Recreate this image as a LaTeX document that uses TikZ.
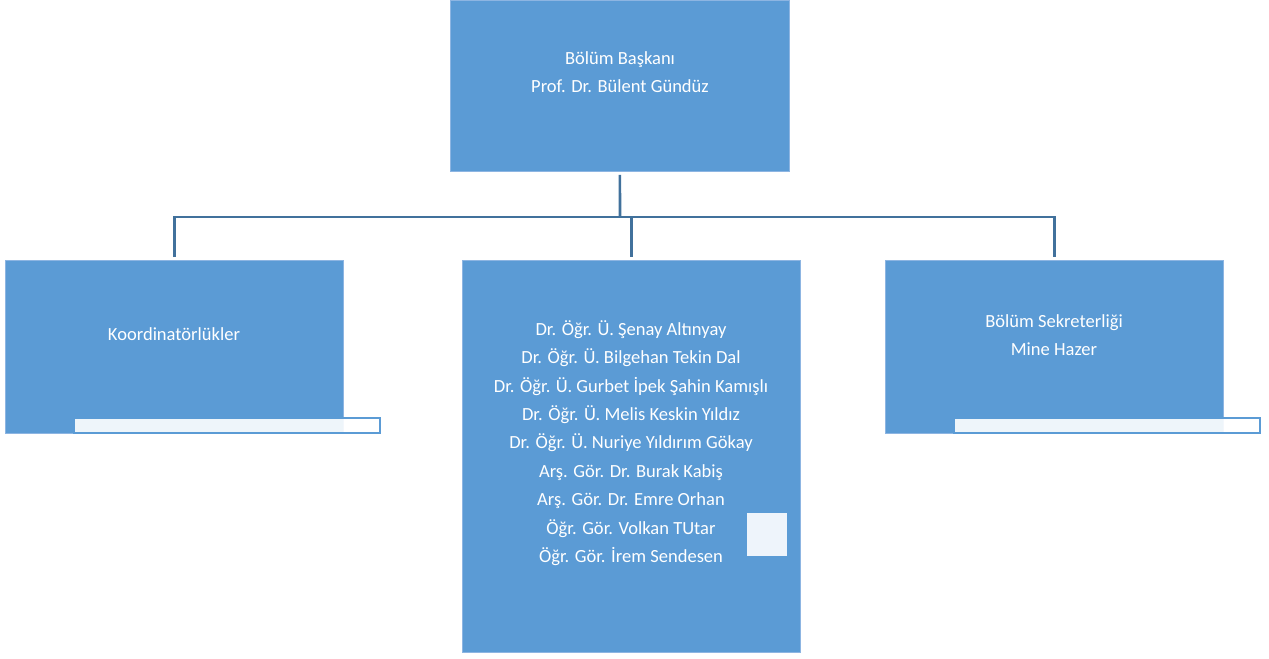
\documentclass[tikz,border=0pt]{standalone}
\usepackage{fontspec}
\setmainfont{Carlito}
\definecolor{boxblue}{HTML}{5B9BD5}
\definecolor{linkblue}{HTML}{41719C}
\definecolor{edgeblue}{HTML}{8DB5E2}
\definecolor{tabfill}{HTML}{EEF4FB}
\begin{document}
\begin{tikzpicture}[x=1bp,y=-1bp,
  box/.style={fill=boxblue, draw=edgeblue, line width=0.8bp, inner sep=0pt, anchor=north west},
  lbl/.style={text=white, font=\fontsize{18.6}{28.5}\selectfont, align=center, inner sep=0pt},
  tab/.style={fill=white, fill opacity=0.9, draw=boxblue, draw opacity=1, line width=2bp, inner sep=0pt, anchor=north west},
  patch/.style={fill=tabfill, inner sep=0pt, anchor=north west},
  link/.style={draw=linkblue, line width=2.6bp}]
\useasboundingbox (0,0) rectangle (1269,659);
% boxes
\node[box, minimum width=339bp, minimum height=171bp] (top) at (450,0) {};
\node[box, minimum width=338bp, minimum height=173bp] (left) at (5,260) {};
\node[box, minimum width=338bp, minimum height=392bp] (mid) at (462,260) {};
\node[box, minimum width=338bp, minimum height=173bp] (right) at (885,260) {};
% connectors
\coordinate (j) at (620,217);
\draw[link] ([yshift=-3bp]top.south) -- (j);
\draw[link] ([yshift=3bp]left.north) |- (j) -| ([yshift=3bp]right.north);
\draw[link] (j -| mid.north) -- ([yshift=3bp]mid.north);
% tabs
\node[tab, minimum width=306bp, minimum height=15bp] (ltab) at (73,417) {};
\node[tab, minimum width=306bp, minimum height=15bp] (rtab) at (953,417) {};
\node[patch, minimum width=40bp, minimum height=43bp] (mpatch) at (747,513) {};
% labels
\node[lbl] (toplbl) at (620,72) {Bölüm Başkanı\\Prof. Dr. Bülent Gündüz};
\node[lbl] (leftlbl) at (174,334) {Koordinatörlükler};
\node[lbl] (rightlbl) at (1054,335) {Bölüm Sekreterliği\\Mine Hazer};
\node[lbl] (midlbl) at (631,443) {Dr. Öğr. Ü. Şenay Altınyay\\
Dr. Öğr. Ü. Bilgehan Tekin Dal\\
Dr. Öğr. Ü. Gurbet İpek Şahin Kamışlı\\
Dr. Öğr. Ü. Melis Keskin Yıldız\\
Dr. Öğr. Ü. Nuriye Yıldırım Gökay\\
Arş. Gör. Dr. Burak Kabiş\\
Arş. Gör. Dr. Emre Orhan\\
Öğr. Gör. Volkan TUtar\\
Öğr. Gör. İrem Sendesen};
\end{tikzpicture}
\end{document}
